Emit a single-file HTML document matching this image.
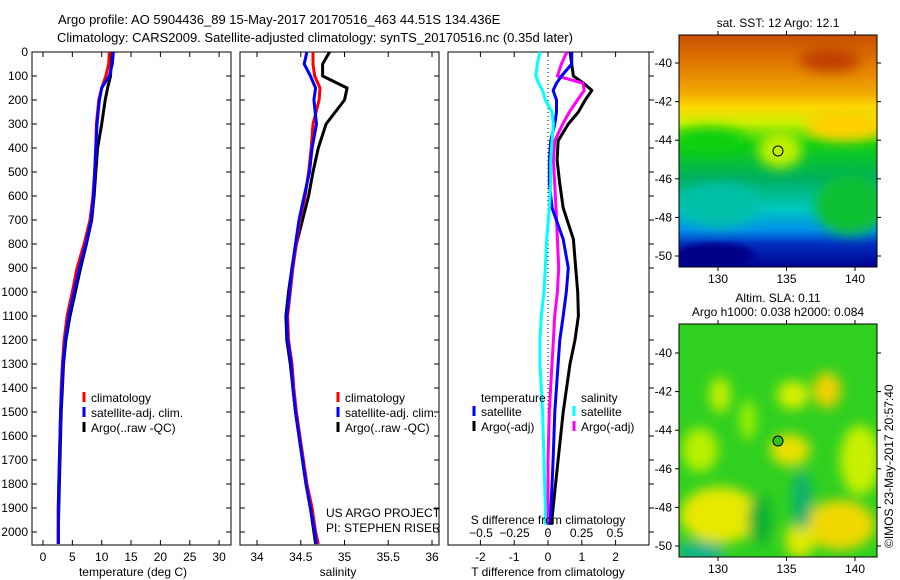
<!DOCTYPE html>
<html><head><meta charset="utf-8">
<style>
body{margin:0;background:#fff;}
svg{display:block;font-family:"Liberation Sans",sans-serif;}
text{font-size:12px;fill:#000;}
</style></head>
<body>
<svg id="chart" width="900" height="580" viewBox="0 0 900 580" xmlns="http://www.w3.org/2000/svg">
<defs>
<filter id="blur6" x="-50%" y="-50%" width="200%" height="200%"><feGaussianBlur stdDeviation="6"/></filter>
<filter id="blur3"><feGaussianBlur stdDeviation="3"/></filter>
<clipPath id="clipMap1"><rect x="679" y="35" width="198" height="232"/></clipPath>
<clipPath id="clipMap2"><rect x="679" y="324" width="198" height="233"/></clipPath>
<linearGradient id="sstGrad" x1="0" y1="0" x2="0" y2="1">
<stop offset="0" stop-color="#c85000"/><stop offset="0.12" stop-color="#e07800"/><stop offset="0.25" stop-color="#f0a800"/>
<stop offset="0.31" stop-color="#ffd800"/><stop offset="0.38" stop-color="#c8f000"/><stop offset="0.47" stop-color="#10d010"/>
<stop offset="0.62" stop-color="#00b060"/><stop offset="0.75" stop-color="#00c8c0"/><stop offset="0.84" stop-color="#0090e8"/>
<stop offset="0.9" stop-color="#0030c0"/><stop offset="1" stop-color="#000090"/>
</linearGradient>
</defs>
<g id="titles">
<text x="58" y="24" style="font-size:13px">Argo profile: AO 5904436_89 15-May-2017 20170516_463 44.51S 134.436E</text>
<text x="57" y="42" style="font-size:13px">Climatology: CARS2009. Satellite-adjusted climatology: synTS_20170516.nc (0.35d later)</text>
</g>
<g id="plots"></g>

<!-- SST map -->
<g>
<text x="778" y="27" text-anchor="middle">sat. SST: 12 Argo: 12.1</text>
<g clip-path="url(#clipMap1)">
<rect x="679" y="35" width="198" height="232" fill="url(#sstGrad)"/>
<ellipse cx="710" cy="140" rx="35" ry="12" fill="#10d010" filter="url(#blur6)"/>
<ellipse cx="780" cy="150" rx="22" ry="18" fill="#c0f000" filter="url(#blur6)"/>
<ellipse cx="845" cy="125" rx="40" ry="16" fill="#ffd000" filter="url(#blur6)"/>
<ellipse cx="850" cy="205" rx="35" ry="30" fill="#10c030" filter="url(#blur6)"/>
<ellipse cx="720" cy="205" rx="40" ry="22" fill="#00c0a8" filter="url(#blur6)"/>
<ellipse cx="830" cy="60" rx="30" ry="12" fill="#c04000" filter="url(#blur6)"/>
<ellipse cx="715" cy="255" rx="40" ry="12" fill="#000088" filter="url(#blur3)"/>
</g>
<rect x="679" y="35" width="198" height="232" fill="none" stroke="#000"/>
<circle cx="778" cy="151" r="5" fill="none" stroke="#000"/>
</g>

<!-- SLA map -->
<g>
<text x="778" y="302" text-anchor="middle">Altim. SLA: 0.11</text>
<text x="778" y="316" text-anchor="middle">Argo h1000: 0.038 h2000: 0.084</text>
<g clip-path="url(#clipMap2)">
<rect x="679" y="324" width="198" height="233" fill="#30d020"/>
<g filter="url(#blur6)">
<ellipse cx="720" cy="395" rx="10" ry="18" fill="#c8f000"/>
<ellipse cx="748" cy="420" rx="8" ry="20" fill="#a0f000"/>
<ellipse cx="793" cy="395" rx="16" ry="14" fill="#d8f000"/>
<ellipse cx="827" cy="390" rx="14" ry="18" fill="#f0d000"/>
<ellipse cx="790" cy="450" rx="20" ry="16" fill="#e8e000"/>
<ellipse cx="700" cy="450" rx="18" ry="22" fill="#b8f000"/>
<ellipse cx="860" cy="460" rx="20" ry="35" fill="#c8f000"/>
<ellipse cx="720" cy="515" rx="40" ry="28" fill="#e8e800"/>
<ellipse cx="840" cy="525" rx="35" ry="25" fill="#f0d800"/>
<ellipse cx="800" cy="540" rx="15" ry="18" fill="#e0e800"/>
<ellipse cx="802" cy="500" rx="10" ry="30" fill="#10b070"/>
<ellipse cx="700" cy="552" rx="25" ry="10" fill="#10b090"/>
<ellipse cx="760" cy="520" rx="12" ry="25" fill="#10b030"/>
</g>
</g>
<rect x="679" y="324" width="198" height="233" fill="none" stroke="#000"/>
<circle cx="778" cy="441" r="5" fill="#30c020" stroke="#000"/>
<text x="893" y="548" transform="rotate(-90 893 548)">©IMOS 23-May-2017 20:57:40</text>
</g>
<g id="mapaxes"></g>
</svg>
<script>
// ---- data ----
const depthT = [0, 50, 100, 150, 200, 300, 400, 500, 600, 700, 800, 900, 1000, 1100, 1200, 1300, 1400, 1500, 1600, 1700, 1800, 1900, 2000, 2050];
const tempClim = [11.3, 11.2, 10.7, 10.0, 9.5, 9.1, 9.0, 8.8, 8.5, 8.0, 7.0, 5.8, 5.0, 4.1, 3.6, 3.3, 3.1, 3.0, 2.9, 2.8, 2.7, 2.6, 2.6, 2.6];
const tempSat = [12.0, 11.8, 11.3, 10.0, 9.6, 9.2, 9.0, 8.8, 8.6, 8.2, 7.3, 6.2, 5.3, 4.4, 3.8, 3.4, 3.2, 3.0, 2.9, 2.8, 2.7, 2.6, 2.6, 2.6];
const tempArgo = [11.6, 11.6, 11.5, 11.0, 10.6, 10.0, 9.3, 9.0, 8.7, 8.3, 7.4, 6.4, 5.5, 4.6, 3.9, 3.5, 3.3, 3.1, 3.0, 2.9, 2.8, 2.7, 2.6, 2.6];
const salClim = [34.64, 34.64, 34.66, 34.72, 34.71, 34.64, 34.62, 34.59, 34.55, 34.49, 34.45, 34.41, 34.38, 34.35, 34.36, 34.40, 34.42, 34.45, 34.49, 34.53, 34.57, 34.63, 34.67, 34.70];
const salSat = [34.57, 34.54, 34.61, 34.67, 34.65, 34.68, 34.63, 34.60, 34.54, 34.48, 34.44, 34.40, 34.37, 34.34, 34.35, 34.39, 34.41, 34.44, 34.48, 34.52, 34.56, 34.61, 34.66, 34.68];
const salArgo = [34.83, 34.75, 34.75, 35.03, 35.00, 34.79, 34.70, 34.64, 34.59, 34.52, 34.45, 34.40, 34.36, 34.33, 34.34, 34.38, 34.41, 34.44, 34.48, 34.52, 34.56, 34.61, 34.65, 34.67];
const depthD = [0, 50, 100, 130, 160, 200, 250, 300, 370, 450, 550, 650, 780, 900, 1000, 1100, 1200, 1300, 1500, 1700, 1900, 1970];
const dTsat = [0.70, 0.70, 0.40, 0.25, 0.15, 0.25, 0.25, 0.20, 0.08, 0.04, 0.04, 0.12, 0.45, 0.60, 0.54, 0.45, 0.35, 0.30, 0.20, 0.15, 0.09, 0.06];
const dTargo = [0.65, 0.70, 0.75, 1.05, 1.30, 1.10, 0.90, 0.60, 0.30, 0.27, 0.35, 0.45, 0.75, 0.82, 0.88, 0.90, 0.80, 0.65, 0.45, 0.30, 0.15, 0.10];
const dSsat = [-0.06, -0.08, -0.09, -0.07, -0.04, -0.02, 0.03, 0.04, 0.03, 0.02, 0.02, 0.01, -0.01, -0.02, -0.03, -0.05, -0.06, -0.06, -0.04, -0.03, -0.02, -0.02];
const dSargo = [0.14, 0.10, 0.07, 0.26, 0.27, 0.22, 0.16, 0.11, 0.05, 0.04, 0.05, 0.06, 0.07, 0.08, 0.07, 0.05, 0.04, 0.03, 0.01, 0.00, 0.00, 0.00];
const depthTicks = [0,100,200,300,400,500,600,700,800,900,1000,1100,1200,1300,1400,1500,1600,1700,1800,1900,2000];
const tempTicks = [0,5,10,15,20,25,30];
const salTicks = [34,34.5,35,35.5,36];
const dTTicks = [-2,-1,0,1,2];
const dSTicks = [-0.5,-0.25,0,0.25,0.5];
const lonTicks = [130,135,140];
const latTicks = [-40,-42,-44,-46,-48,-50];

const NS='http://www.w3.org/2000/svg';
const plots=document.getElementById('plots');
const TOP=52, BOT=545;
const yD = d => 52 + d*0.24;
const xT = v => 43 + v*5.87;
const xS = v => 257 + (v-34)*87.5;
const xDT = v => 548 + v*33.8;
const xDS = v => 548 + v*134;
function mk(tag, attrs, parent){const e=document.createElementNS(NS,tag);for(const k in attrs)e.setAttribute(k,attrs[k]);(parent||plots).appendChild(e);return e;}
function txt(x,y,s,anchor){const t=mk('text',{x:x,y:y,'text-anchor':anchor||'start'});t.textContent=s;return t;}
function line(xs,ds,xf,color,w){
  let p='';
  for(let i=0;i<ds.length;i++){p+=(i?'L':'M')+xf(xs[i]).toFixed(1)+','+yD(ds[i]).toFixed(1);}
  return mk('path',{d:p,fill:'none',stroke:color,'stroke-width':w||3,'stroke-linejoin':'round'});
}
function frame(x0,x1,name){
  const r=mk('rect',{x:x0,y:TOP,width:x1-x0,height:BOT-TOP,fill:'none',stroke:'#000'});
  
  
}
function xticks(ticks,xf,labelY,fmt){
  ticks.forEach(v=>{const x=xf(v);
    mk('line',{x1:x,x2:x,y1:TOP,y2:TOP+5,stroke:'#000'});
    mk('line',{x1:x,x2:x,y1:BOT,y2:BOT-5,stroke:'#000'});
    if(labelY){const t=txt(x,labelY,fmt?fmt(v):String(v),'middle');
      
      }
  });
}
function legend(x,y,items){
  items.forEach((it,i)=>{
    mk('line',{x1:x,x2:x,y1:y+i*15-10,y2:y+i*15,stroke:it[0],'stroke-width':3});
    const t=txt(x+7,y+i*15,it[1]);
    
    
  });
}

// Panel 1: temperature
frame(32,231,'temperature-panel');
depthTicks.forEach(d=>{const y=yD(d);
  mk('line',{x1:32,x2:37,y1:y,y2:y,stroke:'#000'});
  mk('line',{x1:231,x2:226,y1:y,y2:y,stroke:'#000'});
  const t=txt(28,y+4,String(d),'end');
  
  
});
xticks(tempTicks,xT,561);
let e;
e=line(tempArgo,depthT,xT,'#000');
e=line(tempClim,depthT,xT,'#f00');
e=line(tempSat,depthT,xT,'#00f');
e=txt(133,576,'temperature (deg C)','middle');
legend(84,402,[['#f00','climatology'],['#00f','satellite-adj. clim.'],['#000','Argo(..raw -QC)']]);

// Panel 2: salinity
frame(240,439,'salinity-panel');
depthTicks.forEach(d=>{const y=yD(d);
  mk('line',{x1:240,x2:245,y1:y,y2:y,stroke:'#000'});
  mk('line',{x1:439,x2:434,y1:y,y2:y,stroke:'#000'});});
xticks(salTicks,xS,561);
e=line(salArgo,depthT,xS,'#000');
e=line(salClim,depthT,xS,'#f00');
e=line(salSat,depthT,xS,'#00f');
e=txt(338,576,'salinity','middle');
legend(338,402,[['#f00','climatology'],['#00f','satellite-adj. clim.'],['#000','Argo(..raw -QC)']]);
e=txt(326,517,'US ARGO PROJECT');
e=txt(326,532,'PI: STEPHEN RISER');

// Panel 3: differences
frame(448,649,'difference-panel');
depthTicks.forEach(d=>{const y=yD(d);
  mk('line',{x1:649,x2:654,y1:y,y2:y,stroke:'#000'});});
xticks(dTTicks,xDT,561);
mk('line',{x1:548,x2:548,y1:TOP,y2:BOT,stroke:'#000','stroke-dasharray':'1,3'});
dSTicks.forEach(v=>{const t=txt(xDS(v),537,String(v).replace('-','−'),'middle');
  
  });
e=line(dTargo,depthD,xDT,'#000');
e=line(dSargo,depthD,xDS,'#f0f');
e=line(dTsat,depthD,xDT,'#00f');
e=line(dSsat,depthD,xDS,'#0ff');
e=txt(548,524,'S difference from climatology','middle');
e=txt(548,576,'T difference from climatology','middle');
e=txt(481,402,'temperature');
e=txt(581,402,'salinity');
legend(474,416,[['#00f','satellite'],['#000','Argo(-adj)']]);
legend(574,416,[['#0ff','satellite'],['#f0f','Argo(-adj)']]);

// map axes
const ma=document.getElementById('mapaxes');
const lonX = v => 718 + (v-130)*13.7;
[[35,267,63],[324,557,353]].forEach((m,mi)=>{
  const latY = v => m[2] + (-40 - v)*19.3;
  lonTicks.forEach(v=>{const x=lonX(v);
    mk('line',{x1:x,x2:x,y1:m[0],y2:m[0]-4,stroke:'#000'},ma);
    mk('line',{x1:x,x2:x,y1:m[1],y2:m[1]+4,stroke:'#000'},ma);
    const t=txt(x,m[1]+16,String(v),'middle');ma.appendChild(t);
    
    });
  latTicks.forEach(v=>{const y=latY(v);
    mk('line',{x1:679,x2:675,y1:y,y2:y,stroke:'#000'},ma);
    mk('line',{x1:877,x2:881,y1:y,y2:y,stroke:'#000'},ma);
    const t=txt(672,y+4,String(v),'end');ma.appendChild(t);
    
    });
});
</script>
</body></html>
